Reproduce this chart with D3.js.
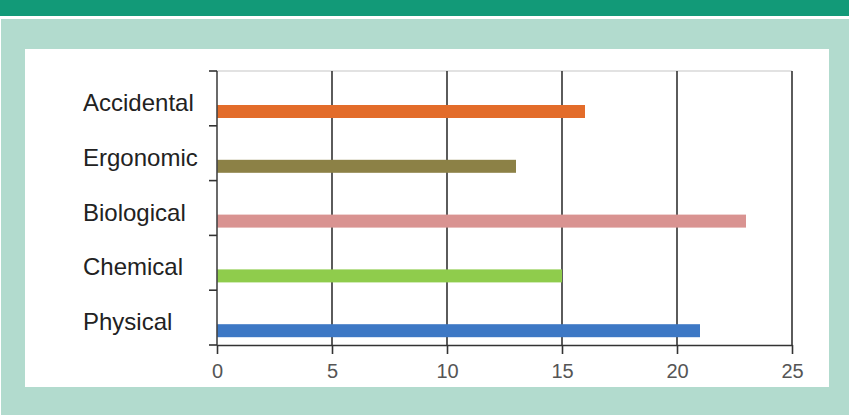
<!DOCTYPE html>
<html>
<head>
<meta charset="utf-8">
<script src="https://cdn.jsdelivr.net/npm/d3@7"></script>
<style>
  html, body { margin: 0; padding: 0; background: #fff; }
  svg { display: block; }
</style>
</head>
<body>
<div id="chart"></div>
<script>
// Hazard categories, top to bottom
const categories = ['Accidental', 'Ergonomic', 'Biological', 'Chemical', 'Physical'];
const values = [16, 13, 23, 15, 21];
const barColors = ['#e36c2a', '#8c8146', '#d99391', '#8fcc4c', '#3d78c5'];
const xTicks = [0, 5, 10, 15, 20, 25];

const width = 849;
const height = 415;

const svg = d3.select('#chart')
    .append('svg')
    .attr('width', width)
    .attr('height', height);

// Slide background
svg.append('rect').attr('x', 0).attr('y', 0).attr('width', width).attr('height', height).attr('fill', '#fff');
svg.append('rect').attr('x', 1).attr('y', 19).attr('width', width - 1).attr('height', height - 19).attr('fill', '#b2dbce');
svg.append('rect').attr('x', 0).attr('y', 0).attr('width', width).attr('height', 16).attr('fill', '#129a78');
svg.append('rect').attr('x', 25).attr('y', 49).attr('width', 804).attr('height', 338).attr('fill', '#fff');

const plot = { left: 217, right: 792, top: 71, bottom: 345 };

const x = d3.scaleLinear()
    .domain([0, 25])
    .range([plot.left, plot.right]);

const y = d3.scaleBand()
    .domain(categories)
    .range([plot.top, plot.bottom]);

// Light top border
svg.append('line')
    .attr('x1', plot.left).attr('x2', plot.right)
    .attr('y1', plot.top).attr('y2', plot.top)
    .attr('stroke', '#d9d9d9')
    .attr('stroke-width', 1.5);

// Vertical grid lines
svg.append('g')
    .selectAll('line')
    .data(xTicks.slice(1))
    .enter()
    .append('line')
    .attr('x1', d => x(d)).attr('x2', d => x(d))
    .attr('y1', plot.top).attr('y2', plot.bottom)
    .attr('stroke', '#333')
    .attr('stroke-width', 1.6);

// Bars
const barOffset = 34;
const barHeight = 13;
svg.append('g')
    .selectAll('rect')
    .data(categories)
    .enter()
    .append('rect')
    .attr('x', x(0))
    .attr('y', d => y(d) + barOffset)
    .attr('width', (d, i) => x(values[i]) - x(0))
    .attr('height', barHeight)
    .attr('fill', (d, i) => barColors[i]);

// X axis
const xAxis = svg.append('g')
    .attr('transform', `translate(0,${plot.bottom})`)
    .call(d3.axisBottom(x).tickValues(xTicks).tickSize(9).tickPadding(10).tickSizeOuter(0));
xAxis.select('.domain').attr('stroke', '#333').attr('stroke-width', 1.6);
xAxis.selectAll('.tick line').attr('stroke', '#333').attr('stroke-width', 1.6);
xAxis.selectAll('.tick text')
    .attr('fill', '#555')
    .style('font-family', '"Liberation Sans", Arial, sans-serif')
    .style('font-size', '20px');

// Y axis (ticks between categories)
const yTickVals = d3.range(categories.length + 1).map(i => plot.top + i * y.step());
svg.append('line')
    .attr('x1', plot.left).attr('x2', plot.left)
    .attr('y1', plot.top).attr('y2', plot.bottom)
    .attr('stroke', '#444')
    .attr('stroke-width', 1.6);
svg.append('g')
    .selectAll('line')
    .data(yTickVals)
    .enter()
    .append('line')
    .attr('x1', plot.left - 8).attr('x2', plot.left)
    .attr('y1', d => d).attr('y2', d => d)
    .attr('stroke', '#333')
    .attr('stroke-width', 1.6);

// Category labels
svg.append('g')
    .selectAll('text')
    .data(categories)
    .enter()
    .append('text')
    .attr('x', 83)
    .attr('y', d => y(d) + 40)
    .attr('fill', '#222')
    .style('font-family', '"Liberation Sans", Arial, sans-serif')
    .style('font-size', '24px')
    .text(d => d);
</script>
</body>
</html>
